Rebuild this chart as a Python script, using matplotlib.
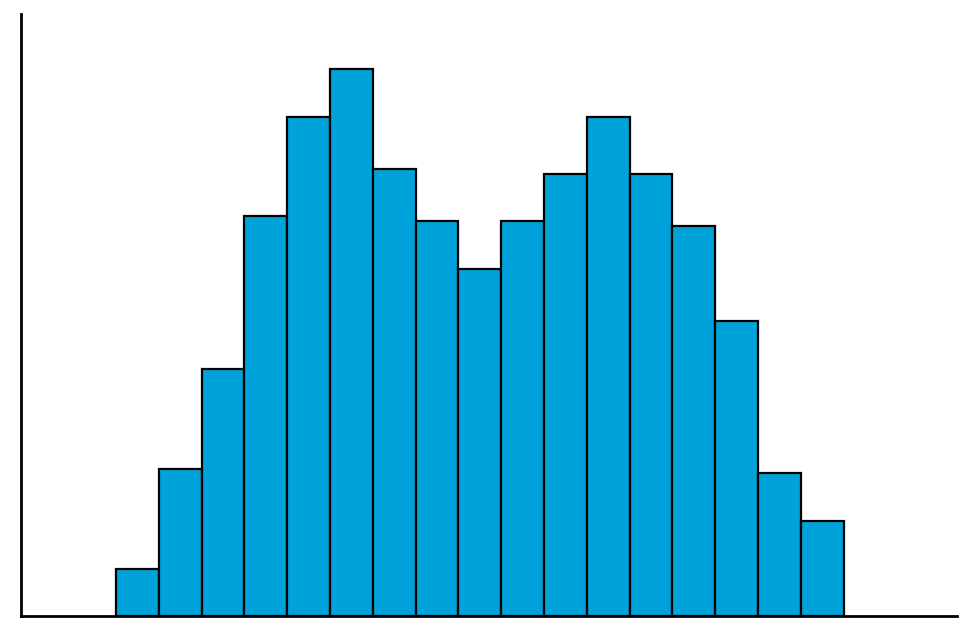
import numpy as np
import matplotlib
matplotlib.use("Agg")
import matplotlib.pyplot as plt

# histogram bin edges and bar heights
bin_edges = [0, 1, 2, 3, 4, 5, 6, 7, 8, 9, 10, 11, 12, 13, 14, 15, 16, 17]
counts = [4.7, 14.7, 24.7, 40.0, 49.9, 54.7, 44.7, 39.5, 34.7,
          39.5, 44.2, 49.9, 44.2, 39.0, 29.5, 14.3, 9.5]

fig = plt.figure(figsize=(9.66, 6.28), dpi=100)
ax = fig.add_axes([21/966, 12/628, (957-21)/966, (616-14)/628])

widths = np.diff(bin_edges)
ax.bar(bin_edges[:-1], counts, width=widths, align='edge',
       color='#00a3d9', edgecolor='black', linewidth=1.6)

ax.set_xlim(-2.22, 19.65)
ax.set_ylim(0, max(counts) * 1.1)
ax.spines['top'].set_visible(False)
ax.spines['right'].set_visible(False)
ax.spines['left'].set_linewidth(2)
ax.spines['bottom'].set_linewidth(2)
ax.set_xticks([])
ax.set_yticks([])

fig.savefig('out.png', dpi=100)
